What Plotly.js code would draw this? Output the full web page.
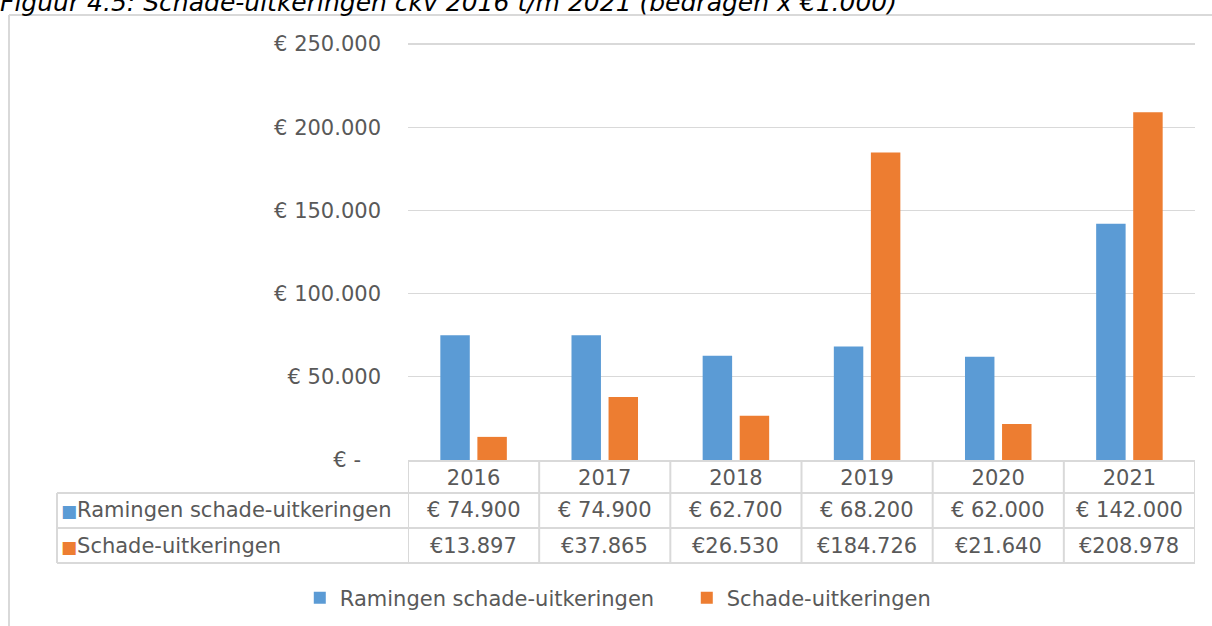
<!DOCTYPE html>
<html>
<head>
<meta charset="utf-8">
<script src="https://cdn.plot.ly/plotly-3.0.1.min.js"></script>
<style>html,body{margin:0;padding:0;background:#fff;}#chart{width:1212px;height:626px;}</style>
</head>
<body>
<div id="chart"></div>
<script>
// ---- data ----
var categories = ['2016', '2017', '2018', '2019', '2020', '2021'];
var ramingen = [74900, 74900, 62700, 68200, 62000, 142000];
var schade = [13897, 37865, 26530, 184726, 21640, 208978];
var seriesNames = ['Ramingen schade-uitkeringen', 'Schade-uitkeringen'];
var yTickVals = [0, 50000, 100000, 150000, 200000, 250000];
var yTickText = ['€ -\u00a0\u00a0\u00a0', '€ 50.000', '€ 100.000', '€ 150.000', '€ 200.000', '€ 250.000'];
var titleText = 'Figuur 4.5: Schade-uitkeringen ckv 2016 t/m 2021 (bedragen x €1.000)';

// ---- styles ----
var BLUE = '#5B9BD5', ORANGE = '#ED7D31', GREY = '#595959', LINE = '#D9D9D9';
var FONT = 'DejaVu Sans, Verdana, sans-serif';
var FS = 21;

function fmt(v) {
  return String(v).replace(/\B(?=(\d{3})+(?!\d))/g, '.');
}
var ramingenLabels = ramingen.map(function (v) { return '€ ' + fmt(v); });
var schadeLabels = schade.map(function (v) { return '€' + fmt(v); });

var traces = [
  { type: 'bar', name: seriesNames[0], x: categories, y: ramingen,
    marker: { color: BLUE, line: { width: 0 } }, hoverinfo: 'skip' },
  { type: 'bar', name: seriesNames[1], x: categories, y: schade,
    marker: { color: ORANGE, line: { width: 0 } }, hoverinfo: 'skip' }
];

// table geometry (paper fractions relative to plot area)
var rowY = [0, -0.0786, -0.1619, -0.2452];
var rowCenter = [-0.0393, -0.1202, -0.2036];
var headerLeft = -0.446;

var shapes = [];
for (var i = 0; i <= categories.length; i++) {
  shapes.push({ type: 'line', xref: 'x', yref: 'paper', x0: i - 0.5, x1: i - 0.5,
    y0: rowY[0], y1: rowY[3], line: { color: LINE, width: 2 } });
}
for (var r = 1; r < rowY.length; r++) {
  shapes.push({ type: 'line', xref: 'paper', yref: 'paper', x0: headerLeft, x1: 1,
    y0: rowY[r], y1: rowY[r], line: { color: LINE, width: 2 } });
}
shapes.push({ type: 'line', xref: 'paper', yref: 'paper', x0: headerLeft, x1: headerLeft,
  y0: rowY[1], y1: rowY[3], line: { color: LINE, width: 2 } });
// chart frame
shapes.push({ type: 'line', xref: 'paper', yref: 'paper', x0: -0.507, x1: -0.507,
  y0: 1.0595, y1: -0.6, line: { color: LINE, width: 2 } });
shapes.push({ type: 'line', xref: 'paper', yref: 'paper', x0: -0.507, x1: 1.1,
  y0: 1.0595, y1: 1.0595, line: { color: LINE, width: 2 } });

var annotations = [];
var rows = [ramingenLabels, schadeLabels];
var colors = [BLUE, ORANGE];
for (var s = 0; s < rows.length; s++) {
  annotations.push({ xref: 'paper', yref: 'paper', x: -0.443, y: rowCenter[s + 1],
    xanchor: 'left', yanchor: 'middle', showarrow: false,
    text: '<span style="color:' + colors[s] + ';font-size:17px">■</span>' + seriesNames[s],
    font: { family: FONT, size: FS, color: GREY } });
  for (var c = 0; c < categories.length; c++) {
    annotations.push({ xref: 'x', yref: 'paper', x: c, y: rowCenter[s + 1],
      xanchor: 'center', yanchor: 'middle', showarrow: false, text: rows[s][c],
      font: { family: FONT, size: FS, color: GREY } });
  }
}

var layout = {
  width: 1212, height: 626,
  margin: { l: 408, r: 17, t: 40, b: 166, pad: 0, autoexpand: false },
  paper_bgcolor: '#fff', plot_bgcolor: '#fff',
  font: { family: FONT, size: FS, color: GREY },
  title: { text: titleText, font: { family: FONT, size: 25, color: '#000', style: 'italic' },
    xref: 'container', yref: 'container', x: 0, xanchor: 'left', y: 0.9824, yanchor: 'bottom' },
  barmode: 'group', bargap: 0.435, bargroupgap: 0.205,
  xaxis: { type: 'category', range: [-0.5, categories.length - 0.5], autorange: false,
    showgrid: false, zeroline: false, showline: true,
    linecolor: LINE, linewidth: 2, ticks: '', ticklabelstandoff: -2,
    tickfont: { family: FONT, size: FS, color: GREY }, fixedrange: true },
  yaxis: { range: [0, 252404], autorange: false, tickvals: yTickVals, ticktext: yTickText, showline: false,
    zeroline: false, gridcolor: LINE, gridwidth: 1.3, ticks: '', ticklabelstandoff: 26,
    tickfont: { family: FONT, size: FS, color: GREY }, fixedrange: true },
  showlegend: true,
  legend: { orientation: 'h', x: -0.1375, xanchor: 'left', y: -0.3286, yanchor: 'middle',
    font: { family: FONT, size: FS, color: GREY }, entrywidth: 342, bgcolor: 'rgba(0,0,0,0)' },
  shapes: shapes,
  annotations: annotations
};

Plotly.newPlot('chart', traces, layout, { displayModeBar: false, staticPlot: true });
</script>
</body>
</html>
